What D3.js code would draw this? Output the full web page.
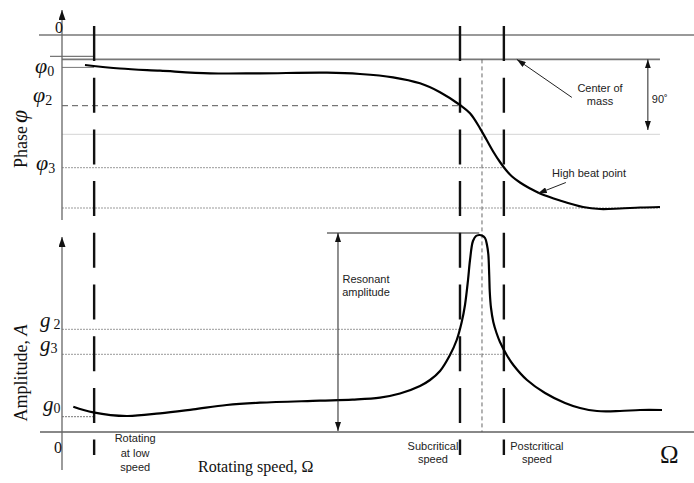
<!DOCTYPE html>
<html>
<head>
<meta charset="utf-8">
<script src="https://cdn.jsdelivr.net/npm/d3@7"></script>
<style>
    body { margin: 0; background: #fff; }
    svg { display: block; }
    .serif { font-family: "Liberation Serif", "DejaVu Serif", serif; fill: #111; }
    .sans { font-family: "Liberation Sans", Arial, sans-serif; font-size: 11px; fill: #222; }
</style>
</head>
<body>
<div id="chart"></div>
<script>

// speed runs 0..100 along the shaft axis, phase / amplitude in plot units
const phaseCurve = [
    [3.72, 15], [9.39, 16.75], [15.86, 17.85], [23.95, 19.15], [32.04, 19.15],
    [42.88, 18.85], [48.22, 19.5], [53.56, 21.15], [57.93, 24.15],
    [61.17, 28.6], [64.4, 35], [66.02, 39.15], [67.64, 46.65], [68.72, 52.5],
    [69.79, 58.35], [70.87, 63.5], [71.84, 67.5], [72.82, 70.75], [74.11, 73.75],
    [75.73, 76.75], [77.35, 79.25], [80.58, 82.75], [84.3, 86], [87.06, 87],
    [90.29, 86.75], [93.53, 86.25], [96.76, 86]
];

const amplitudeCurve = [
    [1.83, 12.65], [5.06, 9.85], [10.47, 8], [15.86, 9.35], [21.25, 11.35],
    [26.65, 13.5], [32.04, 14.65], [41.75, 15.65], [47, 16.2], [51.46, 17.2],
    [54.69, 19.25], [57.93, 23], [59.55, 26], [61.17, 30.5], [62.78, 38.5],
    [63.87, 46], [64.68, 55], [65.21, 63.5], [65.7, 76], [66.02, 86],
    [66.5, 95.5], [66.99, 98], [67.52, 98.5], [67.96, 98.25], [68.45, 97],
    [68.77, 93.5], [68.98, 89], [69.13, 78.5], [69.22, 70], [69.42, 62],
    [69.79, 55], [70.31, 49.5], [70.87, 45], [71.96, 38.5], [73.03, 33.5],
    [75.24, 26], [78.16, 19.5], [81.39, 14.5], [83.82, 12], [86.57, 10.5],
    [90.29, 10.5], [93.53, 11], [97.09, 11]
];

// low speed, subcritical, postcritical
const criticalSpeeds = [5.2, 64.4, 71.5];
const speedLabels = [["Rotating", "at low", "speed"], ["Subcritical", "speed"], ["Postcritical", "speed"]];
const resonanceSpeed = 67.96;
const peakSpeed = 67.52;

const phaseNames = ["0", "2", "3"];
const phaseValues = [16.2, 35.35, 66.35];
const phaseZero = 0;
const phaseUpper = 10.65;
const centerOfMass = 12.2;
const phaseQuarter = 49.65;
const phaseFinal = 86.5;
const phaseArrowEnd = 47.5;

const ampNames = ["2", "3", "0"];
const ampValues = [51.35, 38.85, 7.65];
const resonantAmplitude = 99.5;

class SpeedResponseVis {

    constructor(parentElement) {
        let vis = this;
        vis.parentElement = parentElement;
        vis.initVis();
    }

    initVis() {
        let vis = this;

        vis.width = 694;
        vis.height = 483;
        vis.axisX = 62;

        vis.svg = d3.select("#" + vis.parentElement)
            .append("svg")
            .attr("width", vis.width)
            .attr("height", vis.height);

        // scales
        vis.x = d3.scaleLinear().domain([0, 100]).range([vis.axisX, 680]);
        vis.yPhase = d3.scaleLinear().domain([0, 100]).range([35, 235]);
        vis.yAmp = d3.scaleLinear().domain([0, 100]).range([432, 232]);

        // arrow heads
        let defs = vis.svg.append("defs");
        defs.append("marker")
            .attr("id", "axisHead")
            .attr("markerUnits", "userSpaceOnUse")
            .attr("markerWidth", 10).attr("markerHeight", 7)
            .attr("refX", 10).attr("refY", 3.5)
            .attr("orient", "auto")
            .append("path").attr("d", "M0,0 L10,3.5 L0,7 z").attr("fill", "#111");
        defs.append("marker")
            .attr("id", "head")
            .attr("markerUnits", "userSpaceOnUse")
            .attr("markerWidth", 9).attr("markerHeight", 6)
            .attr("refX", 9).attr("refY", 3)
            .attr("orient", "auto-start-reverse")
            .append("path").attr("d", "M0,0 L9,3 L0,6 z").attr("fill", "#111");

        vis.drawGuides();
        vis.drawCurves();
        vis.drawLabels();
    }

    hLine(y, x1, x2, stroke, width, dash) {
        let vis = this;
        vis.svg.append("line")
            .attr("x1", x1).attr("x2", x2)
            .attr("y1", y).attr("y2", y)
            .attr("stroke", stroke)
            .attr("stroke-width", width)
            .attr("stroke-dasharray", dash || null);
    }

    drawGuides() {
        let vis = this;
        let x = vis.x, yP = vis.yPhase, yA = vis.yAmp;
        let endX = x(phaseCurve[phaseCurve.length - 1][0]);

        // phase panel reference lines
        vis.hLine(yP(phaseZero), 39, vis.width, "#777", 1.3);
        vis.hLine(yP(phaseUpper), 50, x(criticalSpeeds[0]), "#555", 1);
        vis.hLine(yP(centerOfMass), vis.axisX, endX, "#777", 1.6);
        vis.hLine(yP(phaseValues[0]), vis.axisX, x(criticalSpeeds[0]), "#777", 1);
        vis.hLine(yP(phaseValues[1]), vis.axisX, x(criticalSpeeds[1]), "#555", 1, "6,4");
        vis.hLine(yP(phaseQuarter), vis.axisX, endX, "#d4d4d4", 1);
        vis.hLine(yP(phaseValues[2]), vis.axisX, x(criticalSpeeds[2]), "#999", 1, "2,1");
        vis.hLine(yP(phaseFinal), vis.axisX, endX, "#999", 1, "2,1");

        // amplitude panel reference lines
        vis.hLine(yA(ampValues[0]), vis.axisX, x(criticalSpeeds[1]), "#999", 1, "2,1");
        vis.hLine(yA(ampValues[1]), vis.axisX, x(criticalSpeeds[2]), "#999", 1, "2,1");
        vis.hLine(yA(ampValues[2]), vis.axisX, x(criticalSpeeds[0]), "#777", 1, "2,1");
        vis.hLine(yA(0), 40, vis.width, "#888", 2.2);

        // resonance centre line
        vis.svg.append("line")
            .attr("x1", x(resonanceSpeed)).attr("x2", x(resonanceSpeed))
            .attr("y1", yP(centerOfMass)).attr("y2", yA(0))
            .attr("stroke", "#555").attr("stroke-width", 0.9)
            .attr("stroke-dasharray", "4,3");

        // critical speed markers
        vis.svg.selectAll(".crit")
            .data(criticalSpeeds)
            .enter()
            .append("line")
            .attr("class", "crit")
            .attr("x1", d => x(d)).attr("x2", d => x(d))
            .attr("y1", 26).attr("y2", 455)
            .attr("stroke", "#111")
            .attr("stroke-width", 2.4)
            .attr("stroke-dasharray", "35,16.7");

        // vertical axes
        vis.svg.append("line")
            .attr("x1", vis.axisX).attr("x2", vis.axisX)
            .attr("y1", 220).attr("y2", 10)
            .attr("stroke", "#666").attr("stroke-width", 1.3)
            .attr("marker-end", "url(#axisHead)");
        vis.svg.append("line")
            .attr("x1", vis.axisX).attr("x2", vis.axisX)
            .attr("y1", 470).attr("y2", 237)
            .attr("stroke", "#666").attr("stroke-width", 1.3)
            .attr("marker-end", "url(#axisHead)");
    }

    drawCurves() {
        let vis = this;

        let phaseLine = d3.line()
            .x(d => vis.x(d[0]))
            .y(d => vis.yPhase(d[1]))
            .curve(d3.curveCatmullRom.alpha(0.5));

        let ampLine = d3.line()
            .x(d => vis.x(d[0]))
            .y(d => vis.yAmp(d[1]))
            .curve(d3.curveCatmullRom.alpha(0.5));

        vis.svg.append("path")
            .datum(phaseCurve)
            .attr("d", phaseLine)
            .attr("fill", "none")
            .attr("stroke", "#000")
            .attr("stroke-width", 2.2);

        vis.svg.append("path")
            .datum(amplitudeCurve)
            .attr("d", ampLine)
            .attr("fill", "none")
            .attr("stroke", "#000")
            .attr("stroke-width", 2.2);
    }

    drawLabels() {
        let vis = this;
        let x = vis.x, yP = vis.yPhase, yA = vis.yAmp;

        // zero marks
        vis.svg.append("text").attr("class", "serif")
            .attr("x", 59).attr("y", 33)
            .attr("text-anchor", "middle").style("font-size", "16px")
            .text("0");
        vis.svg.append("text").attr("class", "serif")
            .attr("x", 58).attr("y", 453)
            .attr("text-anchor", "middle").style("font-size", "16px")
            .text("0");

        // phi labels
        let phiDx = [35, 33, 36];
        let phiDy = [5.5, -3.5, 2.5];
        phaseNames.forEach((n, i) => {
            let t = vis.svg.append("text").attr("class", "serif")
                .attr("x", phiDx[i])
                .attr("y", yP(phaseValues[i]) + phiDy[i])
                .style("font-size", "22px");
            t.append("tspan").style("font-style", "italic").text("φ");
            t.append("tspan").attr("dy", 3).style("font-size", "14px").text(n);
        });

        // g labels
        let gDx = [40, 40, 43];
        let gDy = [-2.5, -3.5, -5.5];
        ampNames.forEach((n, i) => {
            let t = vis.svg.append("text").attr("class", "serif")
                .attr("x", gDx[i])
                .attr("y", yA(ampValues[i]) + gDy[i])
                .style("font-size", "21px");
            t.append("tspan").style("font-style", "italic").text("g");
            t.append("tspan").attr("dx", i === 0 ? 3 : 0).attr("dy", 2).style("font-size", "14px").text(n);
        });

        // axis titles
        let pt = vis.svg.append("text").attr("class", "serif")
            .attr("transform", "translate(27,168) rotate(-90)")
            .style("font-size", "18px");
        pt.append("tspan").text("Phase");
        pt.append("tspan").attr("dx", 3).style("font-style", "italic").style("font-size", "24px").text("φ");

        let at = vis.svg.append("text").attr("class", "serif")
            .attr("transform", "translate(27,373) rotate(-90)")
            .attr("text-anchor", "middle")
            .style("font-size", "18px");
        at.append("tspan").text("Amplitude, ");
        at.append("tspan").style("font-style", "italic").text("A");

        vis.svg.append("text").attr("class", "serif")
            .attr("x", 198).attr("y", 472)
            .style("font-size", "16px")
            .text("Rotating speed, Ω");

        vis.svg.append("text").attr("class", "serif")
            .attr("x", 660).attr("y", 463)
            .style("font-size", "25px")
            .text("Ω");

        // speed labels under the dashed markers
        let labelDx = [41, -27, 33];
        let labelY = [[442, 457, 471], [450, 463], [450, 463]];
        speedLabels.forEach((lines, i) => {
            lines.forEach((s, j) => {
                vis.svg.append("text").attr("class", "sans")
                    .attr("x", x(criticalSpeeds[i]) + labelDx[i])
                    .attr("y", labelY[i][j])
                    .attr("text-anchor", "middle")
                    .text(s);
            });
        });

        // centre of mass annotation
        let cmX = x(73.6), cmY = yP(centerOfMass);
        vis.svg.append("line")
            .attr("x1", cmX + 55).attr("y1", cmY + 38)
            .attr("x2", cmX).attr("y2", cmY)
            .attr("stroke", "#222").attr("stroke-width", 1)
            .attr("marker-end", "url(#head)");
        [["Center of", 92], ["mass", 105]].forEach(d => {
            vis.svg.append("text").attr("class", "sans")
                .attr("x", 600).attr("y", d[1])
                .attr("text-anchor", "middle")
                .text(d[0]);
        });

        // 90 degree span
        let spanX = x(94.8);
        vis.svg.append("line")
            .attr("x1", spanX).attr("x2", spanX)
            .attr("y1", yP(centerOfMass)).attr("y2", yP(phaseArrowEnd))
            .attr("stroke", "#222").attr("stroke-width", 1)
            .attr("marker-start", "url(#head)")
            .attr("marker-end", "url(#head)");
        vis.svg.append("text").attr("class", "sans")
            .attr("x", spanX + 4).attr("y", 103)
            .text("90˚");

        // high beat point
        let hbX = x(77), hbY = yP(79.25);
        vis.svg.append("line")
            .attr("x1", hbX + 28).attr("y1", hbY - 11)
            .attr("x2", hbX).attr("y2", hbY)
            .attr("stroke", "#222").attr("stroke-width", 1)
            .attr("marker-end", "url(#head)");
        vis.svg.append("text").attr("class", "sans")
            .attr("x", 552).attr("y", 177)
            .text("High beat point");

        // resonant amplitude
        let raX = x(44.66);
        vis.svg.append("line")
            .attr("x1", raX - 11).attr("x2", x(peakSpeed))
            .attr("y1", yA(resonantAmplitude)).attr("y2", yA(resonantAmplitude))
            .attr("stroke", "#222").attr("stroke-width", 1);
        vis.svg.append("line")
            .attr("x1", raX).attr("x2", raX)
            .attr("y1", yA(resonantAmplitude)).attr("y2", yA(0) - 1)
            .attr("stroke", "#222").attr("stroke-width", 1)
            .attr("marker-start", "url(#head)")
            .attr("marker-end", "url(#head)");
        [["Resonant", 283], ["amplitude", 296]].forEach(d => {
            vis.svg.append("text").attr("class", "sans")
                .attr("x", raX + 28).attr("y", d[1])
                .attr("text-anchor", "middle")
                .text(d[0]);
        });
    }
}

new SpeedResponseVis("chart");
</script>
</body>
</html>
